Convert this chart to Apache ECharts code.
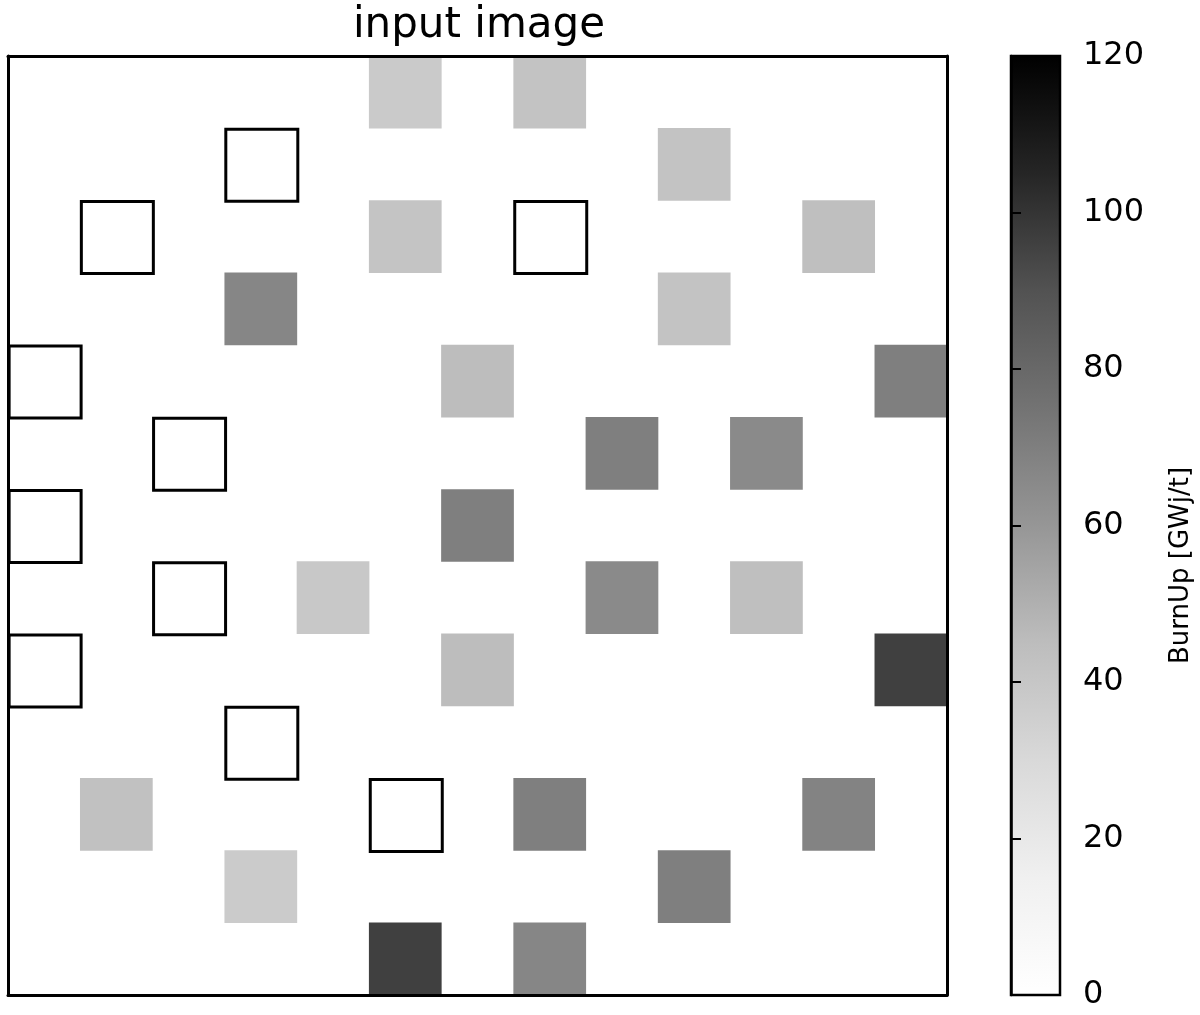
<!DOCTYPE html>
<html>
<head>
<meta charset="utf-8">
<script src="https://cdn.jsdelivr.net/npm/echarts@6/dist/echarts.min.js"></script>
<style>
html,body{margin:0;padding:0;background:#fff;}
#chart{width:1200px;height:1015px;}
</style>
</head>
<body>
<div id="chart"></div>
<script>
// ---- data ----
const colLabels = ['0','1','2','3','4','5','6','7','8','9','10','11','12'];
const rowLabels = ['0','1','2','3','4','5','6','7','8','9','10','11','12'];
// [column, row (from top), BurnUp GWj/t]
const burnupCells = [
  [5,0,38],[7,0,42],
  [9,1,42],
  [5,2,41],[11,2,44],
  [3,3,67],[9,3,42],
  [6,4,45],[12,4,70],
  [8,5,70],[10,5,65],
  [6,6,70],
  [4,7,39],[8,7,65],[10,7,44],
  [6,8,45],[12,8,96],
  [1,10,43],[7,10,70],[11,10,68],
  [3,11,37.5],[9,11,70],
  [5,12,96],[7,12,67]
];
// outlined (empty) positions [column, row]
const outlinedCells = [[3,1],[1,2],[7,2],[0,4],[2,5],[0,6],[2,7],[0,8],[3,9],[5,10]];
const colorbarTicks = [0,20,40,60,80,100,120];
const titleText = 'input image';
const colorbarLabel = 'BurnUp [GWj/t]';

// matplotlib "Greys"
const greys = ['#ffffff','#f0f0f0','#d9d9d9','#bdbdbd','#969696','#737373','#525252','#252525','#000000'];
const gradStops = greys.slice().reverse().map((c,i)=>({offset:i/(greys.length-1), color:c}));

const chart = echarts.init(document.getElementById('chart'), null, {renderer:'canvas'});
const font = 'DejaVu Sans';
const cbMin = colorbarTicks[0], cbMax = colorbarTicks[colorbarTicks.length-1];

const option = {
  backgroundColor:'#fff',
  animation:false,
  title:{
    text:titleText, left:474, top:0, textAlign:'center',
    textStyle:{fontFamily:font, fontSize:42, fontWeight:'normal', color:'#000'}
  },
  grid:[
    {left:8, top:56, width:939, height:939, show:false},
    {left:1011, top:56, width:49, height:939, show:true, borderColor:'#000', borderWidth:2.5,
     backgroundColor:{type:'linear', x:0, y:0, x2:0, y2:1, colorStops:gradStops}}
  ],
  xAxis:[
    {type:'category', gridIndex:0, data:colLabels, position:'bottom', z:10,
     axisLine:{show:true, lineStyle:{color:'#000', width:3}}, axisTick:{show:false}, axisLabel:{show:false}, splitLine:{show:false}},
    {type:'category', gridIndex:0, data:colLabels, position:'top', z:10,
     axisLine:{show:true, lineStyle:{color:'#000', width:3}}, axisTick:{show:false}, axisLabel:{show:false}, splitLine:{show:false}},
    {type:'value', gridIndex:1, min:0, max:1, show:false}
  ],
  yAxis:[
    {type:'category', gridIndex:0, data:rowLabels, inverse:true, position:'left', z:10,
     axisLine:{show:true, lineStyle:{color:'#000', width:3}}, axisTick:{show:false}, axisLabel:{show:false}, splitLine:{show:false}},
    {type:'category', gridIndex:0, data:rowLabels, inverse:true, position:'right', z:10,
     axisLine:{show:true, lineStyle:{color:'#000', width:3}}, axisTick:{show:false}, axisLabel:{show:false}, splitLine:{show:false}},
    {type:'value', gridIndex:1, min:cbMin, max:cbMax, interval:20, position:'right',
     axisLine:{show:true, lineStyle:{color:'#000', width:2.5}},
     axisTick:{show:true, inside:false, length:10, lineStyle:{color:'#000', width:2}},
     axisLabel:{show:true, margin:23, fontFamily:font, fontSize:32, color:'#000'},
     splitLine:{show:false},
     name:colorbarLabel, nameLocation:'middle', nameRotate:90, nameGap:108,
     nameTextStyle:{fontFamily:font, fontSize:26, color:'#000', padding:[0,80,0,0]}}
  ],
  visualMap:{
    show:false, type:'continuous', min:cbMin, max:cbMax, seriesIndex:0, dimension:2,
    inRange:{color:greys}
  },
  series:[
    {type:'heatmap', xAxisIndex:0, yAxisIndex:0, data:burnupCells, z:2},
    {type:'scatter', xAxisIndex:0, yAxisIndex:0, data:outlinedCells, symbol:'rect', symbolSize:72,
     symbolOffset:[1,1], z:5,
     itemStyle:{color:'rgba(255,255,255,0)', borderColor:'#000', borderWidth:3, opacity:1}},
    {type:'line', xAxisIndex:2, yAxisIndex:2, data:[], silent:true}
  ]
};
chart.setOption(option);
</script>
</body>
</html>
